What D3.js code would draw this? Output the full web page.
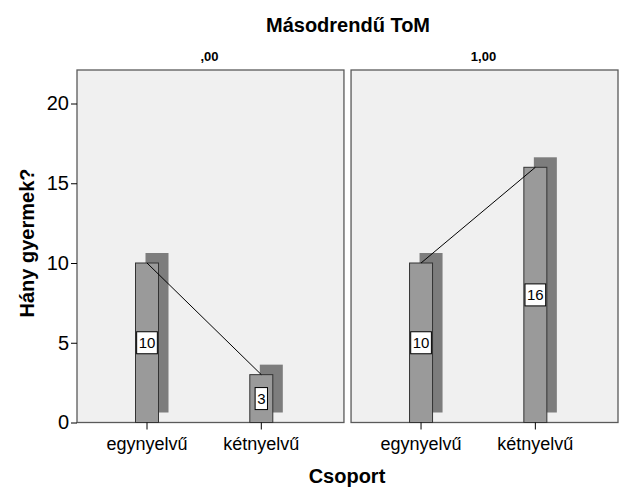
<!DOCTYPE html>
<html>
<head>
<meta charset="utf-8">
<script src="https://cdn.jsdelivr.net/npm/d3@7/dist/d3.min.js"></script>
<style>
  html, body { margin: 0; padding: 0; background: #ffffff; }
  svg { display: block; font-family: "Liberation Sans", Arial, sans-serif; }
</style>
</head>
<body>
<svg id="chart" width="626" height="501"></svg>
<script>
// ---- data ----
const title = "Másodrendű ToM";
const panelLabels = [",00", "1,00"];
const categories = ["egynyelvű", "kétnyelvű"];
const countsPanel00 = [10, 3];
const countsPanel100 = [10, 16];
const yTickValues = [0, 5, 10, 15, 20];
const xTitle = "Csoport";
const yTitle = "Hány gyermek?";

const seriesByPanel = [countsPanel00, countsPanel100];

// ---- layout ----
const svg = d3.select("#chart");
const plotTop = 70, plotBottom = 422.5;
const panelW = 267, panelGap = 7, plotLeft = 77;
const barW = 23, shadowOff = 10;

const y = d3.scaleLinear().domain([0, 20]).range([plotBottom, 103.5]);
const panelX = d3.scaleBand().domain(panelLabels)
  .range([plotLeft, plotLeft + 2 * panelW + panelGap]).paddingInner(panelGap / (panelW + panelGap / 2));
const xInPanel = d3.scalePoint().domain(categories).range([70, 184.3]);

// title
svg.append("text").attr("x", 348).attr("y", 31.5).attr("text-anchor", "middle")
  .attr("font-size", 20).attr("font-weight", "bold").attr("fill", "#000").text(title);

panelLabels.forEach((pl, pi) => {
  const x0 = panelX(pl);
  const w = panelX.bandwidth();
  const g = svg.append("g").attr("transform", `translate(${x0},0)`);
  // panel background
  g.append("rect").attr("x", 0).attr("y", plotTop).attr("width", w).attr("height", plotBottom - plotTop)
    .attr("fill", "#f0f0f0").attr("stroke", "#5a5a5a").attr("stroke-width", 1.3);
  // panel label
  g.append("text").attr("x", w / 2 - 1).attr("y", 61).attr("text-anchor", "middle")
    .attr("font-size", 13).attr("font-weight", "bold").text(pl);

  const vals = seriesByPanel[pi];
  const data = categories.map((c, i) => ({ c, v: vals[i] }));

  // shadows
  g.selectAll(".shadow").data(data).enter().append("rect")
    .attr("x", d => xInPanel(d.c) - barW / 2 + shadowOff)
    .attr("y", d => y(d.v) - shadowOff)
    .attr("width", barW)
    .attr("height", d => y(0) - y(d.v))
    .attr("fill", "#7d7d7d");
  // bars
  g.selectAll(".bar").data(data).enter().append("rect")
    .attr("x", d => xInPanel(d.c) - barW / 2)
    .attr("y", d => y(d.v))
    .attr("width", barW)
    .attr("height", d => y(0) - y(d.v))
    .attr("fill", "#9a9a9a").attr("stroke", "#333").attr("stroke-width", 1);
  // connecting line
  g.append("path").datum(data)
    .attr("d", d3.line().x(d => xInPanel(d.c)).y(d => y(d.v)))
    .attr("fill", "none").attr("stroke", "#000").attr("stroke-width", 1);
  // value labels
  data.forEach(d => {
    const cx = xInPanel(d.c), cy = y(d.v / 2);
    const t = g.append("text").attr("x", cx).attr("y", cy + 5.5).attr("text-anchor", "middle")
      .attr("font-size", 15).attr("fill", "#000").text(d.v);
    const tw = t.node().getComputedTextLength();
    g.insert("rect", function () { return t.node(); })
      .attr("x", cx - tw / 2 - 2).attr("y", cy - 11).attr("width", tw + 4).attr("height", 22)
      .attr("fill", "#fff").attr("stroke", "#000").attr("stroke-width", 1);
  });
  // x ticks and labels
  categories.forEach(c => {
    g.append("line").attr("x1", xInPanel(c)).attr("x2", xInPanel(c))
      .attr("y1", plotBottom).attr("y2", plotBottom + 7).attr("stroke", "#000");
    g.append("text").attr("x", xInPanel(c)).attr("y", 450).attr("text-anchor", "middle")
      .attr("font-size", 18).text(c);
  });
});

// y axis
const yAxis = d3.axisLeft(y).tickValues(yTickValues).tickSize(6).tickPadding(2);
const ya = svg.append("g").attr("transform", `translate(${plotLeft},0)`).call(yAxis);
ya.select(".domain").remove();
ya.selectAll("text").attr("font-size", 20).attr("font-family", "Liberation Sans, Arial, sans-serif").attr("fill", "#000");
ya.selectAll("line").attr("stroke", "#000");

// axis titles
svg.append("text").attr("x", 347).attr("y", 482.5).attr("text-anchor", "middle")
  .attr("font-size", 20).attr("font-weight", "bold").text(xTitle);
svg.append("text").attr("transform", "translate(34,243) rotate(-90)").attr("text-anchor", "middle")
  .attr("font-size", 20).attr("font-weight", "bold").text(yTitle);
</script>
</body>
</html>
